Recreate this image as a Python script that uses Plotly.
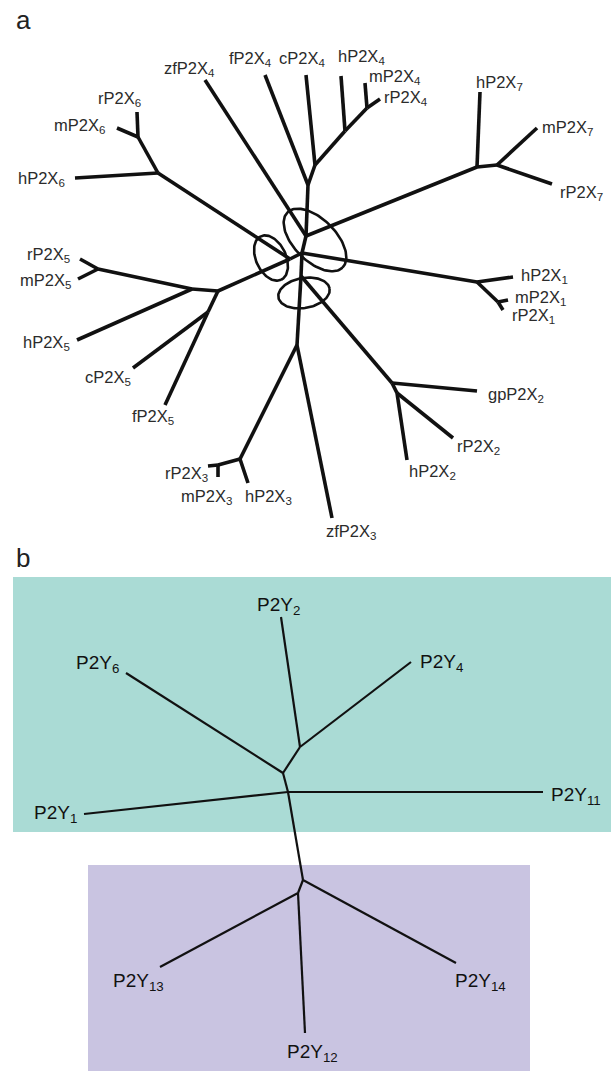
import numpy as np
import plotly.graph_objects as go

W, H = 611, 1071

# ---------------- Panel a : P2X tree (positions in figure pixels) ----------------
a_node_names = ["C", "U", "A", "L",
                "F4", "K4", "H4", "M4", "zfP2X4", "fP2X4", "cP2X4", "hP2X4", "mP2X4", "rP2X4",
                "N7", "S7", "hP2X7", "mP2X7", "rP2X7",
                "N1", "M1", "hP2X1", "mP2X1", "rP2X1",
                "N2", "S2", "gpP2X2", "rP2X2", "hP2X2",
                "T3", "N3", "M3", "zfP2X3", "rP2X3", "mP2X3", "hP2X3",
                "N6", "S6", "hP2X6", "rP2X6", "mP2X6",
                "N5", "S5a", "R5", "S5b", "rP2X5", "mP2X5", "hP2X5", "cP2X5", "fP2X5"]
a_node_x = [302, 306, 290, 301,
            308, 315, 345, 367, 205, 265, 306, 341, 365, 380,
            477, 497, 480, 537, 552,
            477, 498, 513, 508, 503,
            392, 397, 477, 453, 407,
            297, 240, 218, 332, 208, 218, 248,
            158, 138, 75, 137, 117,
            218, 192, 98, 208, 80, 78, 77, 133, 165]
a_node_y = [253, 236, 259, 276,
            185, 165, 131, 108, 80, 75, 75, 76, 83, 99,
            167, 165, 92, 128, 184,
            282, 302, 277, 300, 310,
            383, 393, 391, 438, 460,
            345, 459, 465, 518, 466, 477, 483,
            173, 137, 178, 112, 128,
            291, 289, 269, 312, 259, 279, 340, 368, 405]
a_edges = [("C", "U"), ("C", "A"), ("C", "L"), ("C", "N1"),
           ("U", "F4"), ("U", "zfP2X4"), ("F4", "fP2X4"), ("F4", "K4"), ("K4", "cP2X4"),
           ("K4", "H4"), ("H4", "hP2X4"), ("H4", "M4"), ("M4", "mP2X4"), ("M4", "rP2X4"),
           ("U", "N7"), ("N7", "hP2X7"), ("N7", "S7"), ("S7", "mP2X7"), ("S7", "rP2X7"),
           ("N1", "hP2X1"), ("N1", "M1"), ("M1", "mP2X1"), ("M1", "rP2X1"),
           ("L", "N2"), ("N2", "gpP2X2"), ("N2", "S2"), ("S2", "rP2X2"), ("S2", "hP2X2"),
           ("L", "T3"), ("T3", "zfP2X3"), ("T3", "N3"), ("N3", "M3"), ("M3", "rP2X3"),
           ("M3", "mP2X3"), ("N3", "hP2X3"),
           ("A", "N6"), ("N6", "hP2X6"), ("N6", "S6"), ("S6", "rP2X6"), ("S6", "mP2X6"),
           ("A", "N5"), ("N5", "S5a"), ("S5a", "R5"), ("R5", "rP2X5"), ("R5", "mP2X5"),
           ("S5a", "hP2X5"), ("N5", "S5b"), ("S5b", "cP2X5"), ("S5b", "fP2X5")]

a_label_text = ["zfP2X<sub>4</sub>", "fP2X<sub>4</sub>", "cP2X<sub>4</sub>", "hP2X<sub>4</sub>",
                "mP2X<sub>4</sub>", "rP2X<sub>4</sub>", "hP2X<sub>7</sub>", "mP2X<sub>7</sub>",
                "rP2X<sub>7</sub>", "rP2X<sub>6</sub>", "mP2X<sub>6</sub>", "hP2X<sub>6</sub>",
                "rP2X<sub>5</sub>", "mP2X<sub>5</sub>", "hP2X<sub>5</sub>", "cP2X<sub>5</sub>",
                "fP2X<sub>5</sub>", "rP2X<sub>3</sub>", "mP2X<sub>3</sub>", "hP2X<sub>3</sub>",
                "zfP2X<sub>3</sub>", "hP2X<sub>2</sub>", "rP2X<sub>2</sub>", "gpP2X<sub>2</sub>",
                "hP2X<sub>1</sub>", "mP2X<sub>1</sub>", "rP2X<sub>1</sub>"]
a_label_x = [189, 250, 302, 361, 395, 406, 499, 567, 581, 119, 79, 41, 48, 45, 46, 108,
             153, 186, 206, 268, 351, 432, 478, 516, 544, 540, 533]
a_label_y = [69, 59, 59, 57, 77, 98, 83, 128, 193, 99, 126, 179, 255, 281, 343, 378,
             417, 474, 497, 497, 532, 472, 447, 395, 276, 298, 316]

# ellipses marking groupings at the centre of tree a
ell_cx = [315, 271, 304]
ell_cy = [240, 258, 293]
ell_a = [39, 24, 26]
ell_b = [21, 15, 15]
ell_angle = [45, 65, -10]

# ---------------- Panel b : P2Y tree ----------------
b_node_names = ["N1", "N2", "N3", "N4", "N5",
                "P2Y2", "P2Y4", "P2Y6", "P2Y1", "P2Y11", "P2Y13", "P2Y12", "P2Y14"]
b_node_x = [300, 283, 288, 303, 298, 281, 411, 126, 84, 543, 160, 305, 456]
b_node_y = [747, 773, 792, 880, 893, 617, 662, 673, 814, 792, 967, 1033, 963]
b_edges = [("N1", "P2Y2"), ("N1", "P2Y4"), ("N1", "N2"), ("N2", "P2Y6"), ("N2", "N3"),
           ("N3", "P2Y1"), ("N3", "P2Y11"), ("N3", "N4"), ("N4", "N5"), ("N4", "P2Y14"),
           ("N5", "P2Y13"), ("N5", "P2Y12")]
b_label_text = ["P2Y<sub>2</sub>", "P2Y<sub>6</sub>", "P2Y<sub>4</sub>", "P2Y<sub>11</sub>",
                "P2Y<sub>1</sub>", "P2Y<sub>13</sub>", "P2Y<sub>14</sub>", "P2Y<sub>12</sub>"]
b_label_x = [278, 97, 441, 576, 55, 138, 480, 312]
b_label_y = [606, 664, 663, 796, 814, 982, 982, 1053]

# group boxes (x0, x1, y0, y1)
box_x0 = [13, 88]
box_x1 = [611, 530]
box_y0 = [577, 865]
box_y1 = [832, 1071]
box_color = ["#aadbd5", "#c9c4e1"]

panel_letters = ["a", "b"]
panel_letter_x = [23, 23]
panel_letter_y = [20, 558]


def edge_xy(names, xs, ys, edges):
    pos = {n: (x, y) for n, x, y in zip(names, xs, ys)}
    ex, ey = [], []
    for p, q in edges:
        ex += [pos[p][0], pos[q][0], None]
        ey += [pos[p][1], pos[q][1], None]
    return ex, ey


fig = go.Figure()

ax_, ay_ = edge_xy(a_node_names, a_node_x, a_node_y, a_edges)
fig.add_trace(go.Scatter(x=ax_, y=ay_, mode="lines",
                         line=dict(color="#111111", width=3.6), hoverinfo="skip"))

t = np.linspace(0, 2 * np.pi, 120)
exs, eys = [], []
for cx, cy, a, b, ang in zip(ell_cx, ell_cy, ell_a, ell_b, ell_angle):
    th = np.deg2rad(ang)
    px = cx + a * np.cos(t) * np.cos(th) - b * np.sin(t) * np.sin(th)
    py = cy + a * np.cos(t) * np.sin(th) + b * np.sin(t) * np.cos(th)
    exs += list(px) + [None]
    eys += list(py) + [None]
fig.add_trace(go.Scatter(x=exs, y=eys, mode="lines",
                         line=dict(color="#111111", width=2.6), hoverinfo="skip"))

bx_, by_ = edge_xy(b_node_names, b_node_x, b_node_y, b_edges)
fig.add_trace(go.Scatter(x=bx_, y=by_, mode="lines",
                         line=dict(color="#111111", width=2.2), hoverinfo="skip"))

for x0, x1, y0, y1, c in zip(box_x0, box_x1, box_y0, box_y1, box_color):
    fig.add_shape(type="rect", x0=x0, x1=x1, y0=y0, y1=y1, fillcolor=c,
                  line=dict(width=0), layer="below")

font = "Liberation Sans, Arial, Helvetica, sans-serif"
for txt, x, y in zip(a_label_text, a_label_x, a_label_y):
    fig.add_annotation(x=x, y=y, text=txt, showarrow=False, xanchor="center",
                       yanchor="middle", font=dict(family=font, size=16.5, color="#2b2b2b"))
for txt, x, y in zip(b_label_text, b_label_x, b_label_y):
    fig.add_annotation(x=x, y=y, text=txt, showarrow=False, xanchor="center",
                       yanchor="middle", font=dict(family=font, size=19, color="#111111"))
for txt, x, y in zip(panel_letters, panel_letter_x, panel_letter_y):
    fig.add_annotation(x=x, y=y, text=txt, showarrow=False, xanchor="center",
                       yanchor="middle", font=dict(family=font, size=26, color="#222222"))

fig.update_layout(width=W, height=H, margin=dict(l=0, r=0, t=0, b=0),
                  paper_bgcolor="white", plot_bgcolor="white", showlegend=False,
                  xaxis=dict(range=[0, W], visible=False, fixedrange=True),
                  yaxis=dict(range=[H, 0], visible=False, fixedrange=True))

fig.write_html("out.html", config={"displayModeBar": False},
               post_script="document.body.style.margin='0';"
                           "document.body.style.overflow='hidden';")
